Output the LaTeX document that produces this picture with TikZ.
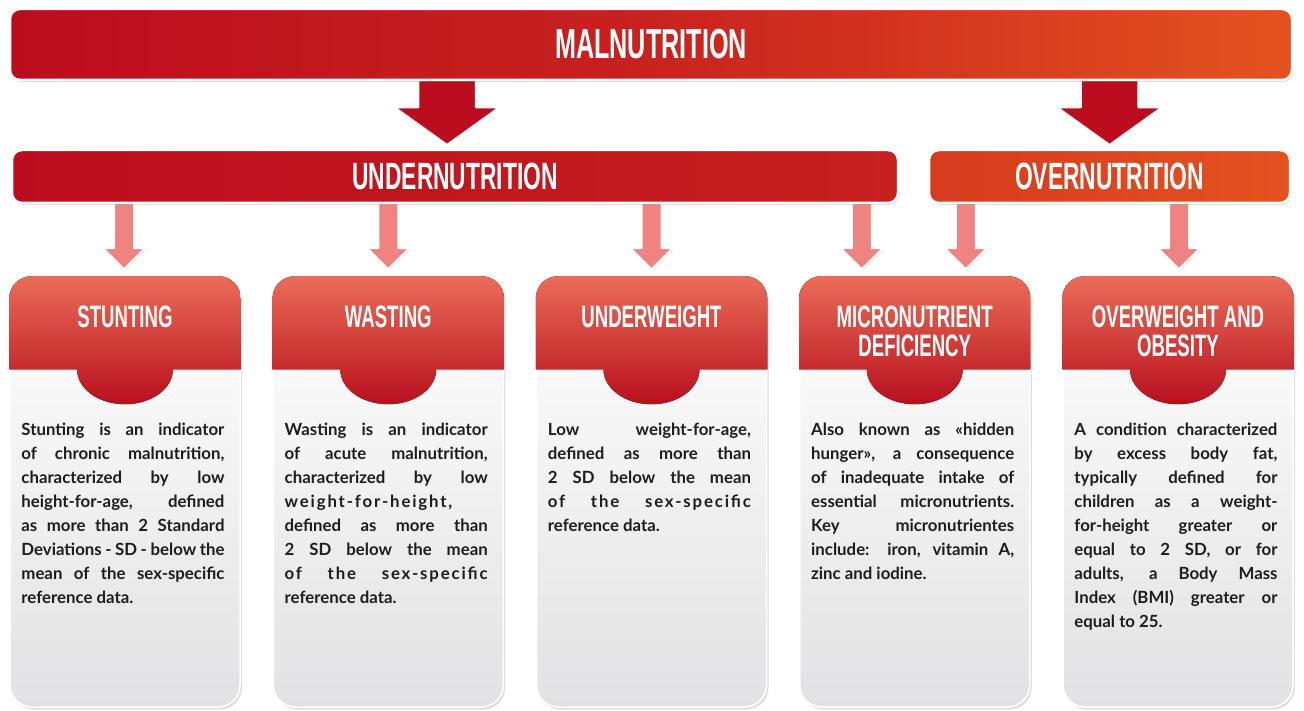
\documentclass[tikz,border=0pt]{standalone}
\usepackage{fontspec}
\setmainfont{Lato}
\newfontfamily\headfont{Liberation Sans}[FakeStretch=0.6]
\usetikzlibrary{positioning,calc,shadows,backgrounds}

\definecolor{maldark}{HTML}{BB0D1E}
\definecolor{malmid}{HTML}{C8221F}
\definecolor{malorange}{HTML}{E4521F}
\definecolor{underright}{HTML}{C6201F}
\definecolor{overleft}{HTML}{D63B1E}
\definecolor{arrowpink}{HTML}{EE837F}
\definecolor{captop}{HTML}{EA6D58}
\definecolor{capbot}{HTML}{B8101E}
\definecolor{cardbot}{HTML}{E2E2E4}
\definecolor{textdark}{HTML}{1D1D1B}

\begin{document}
\begin{tikzpicture}[x=1pt, y=-1pt,
  bar/.style={draw=white, line width=2.5pt, rounded corners=10pt, inner sep=0pt, text=white,
    drop shadow={shadow xshift=1pt, shadow yshift=-2pt, opacity=.3}},
  bigarrow/.style={fill=maldark, draw=white, line width=2.5pt, line join=round},
  smallarrow/.style={fill=arrowpink, draw=white, line width=2pt, line join=round,
    drop shadow={shadow xshift=1pt, shadow yshift=-1.5pt, opacity=.2}},
  card/.style={minimum width=230pt, minimum height=430pt, rounded corners=22pt,
    top color=white, bottom color=cardbot, draw=white, line width=1.5pt,
    drop shadow={shadow xshift=2pt, shadow yshift=-2.5pt, opacity=.25}},
  cardhead/.style={top color=captop, bottom color=capbot},
  cardtitle/.style={text=white, align=center, inner sep=0pt,
    font=\headfont\bfseries\fontsize{31}{29}\selectfont},
  cardtext/.style={anchor=north west, text width=203pt, align=justify, inner sep=0pt,
    text=textdark, font=\bfseries\fontsize{16.8}{24}\selectfont}
]
\useasboundingbox (0,0) rectangle (1304,711);

% top bars
\node[bar, minimum width=1282pt, minimum height=71pt, left color=maldark, right color=malorange,
  middle color=malmid, font=\headfont\bfseries\fontsize{42}{42}\selectfont] (mal) at (651,44.5) {MALNUTRITION};
\node[bar, minimum width=886pt, minimum height=53pt, left color=maldark, right color=underright,
  font=\headfont\bfseries\fontsize{38}{38}\selectfont] (under) at (455,176.5) {UNDERNUTRITION};
\node[bar, minimum width=361pt, minimum height=53pt, left color=overleft, right color=malorange,
  font=\headfont\bfseries\fontsize{38}{38}\selectfont] (over) at (1109.5,176.5) {OVERNUTRITION};

% cards
\foreach \n [count=\i from 0] in {stunt, wast, uwt, micro, obes} {
  \node[card] (\n) at (125+263.25*\i, 492) {};
  \begin{scope}
    \clip[rounded corners=22pt] (\n.north west) rectangle (\n.south east);
    \fill[cardhead] (\n.north west) -- (\n.north east) -- ++(0,93)
      -- ($(\n.north)+(48,93)$) arc[start angle=0, end angle=180, x radius=48, y radius=35]
      -- ($(\n.north west)+(0,93)$) -- cycle;
  \end{scope}
}

\node[cardtitle] (t1) at ($(stunt.north)+(0,41)$) {STUNTING};
\node[cardtitle] (t2) at ($(wast.north)+(0,41)$) {WASTING};
\node[cardtitle] (t3) at ($(uwt.north)+(0,41)$) {UNDERWEIGHT};
\node[cardtitle] (t4) at ($(micro.north)+(0,55)$) {MICRONUTRIENT\\DEFICIENCY};
\node[cardtitle] (t5) at ($(obes.north)+(0,55)$) {OVERWEIGHT AND\\OBESITY};

\node[cardtext] (b1) at ($(stunt.north west)+(12,147)$) {Stunting is an indicator\linebreak
  of chronic malnutrition,\linebreak characterized by low\linebreak height-for-age, defined\linebreak
  as more than 2 Standard\linebreak Deviations - SD - below the\linebreak
  mean of the sex-specific\linebreak reference data.};
\node[cardtext] (b2) at ($(wast.north west)+(12,147)$) {Wasting is an indicator\linebreak
  of acute malnutrition,\linebreak characterized by low\linebreak
  {\addfontfeature{LetterSpace=11}weight-for-height,}\linebreak defined as more than\linebreak
  2 SD below the mean\linebreak {\addfontfeature{LetterSpace=11}of the sex-specific}\linebreak
  reference data.};
\node[cardtext] (b3) at ($(uwt.north west)+(12,147)$) {Low weight-for-age,\linebreak
  defined as more than\linebreak 2 SD below the mean\linebreak
  {\addfontfeature{LetterSpace=11}of the sex-specific}\linebreak reference data.};
\node[cardtext] (b4) at ($(micro.north west)+(12,147)$) {Also known as «hidden\linebreak
  hunger», a consequence\linebreak of inadequate intake of\linebreak essential micronutrients.\linebreak
  Key micronutrientes\linebreak include: iron, vitamin A,\linebreak zinc and iodine.};
\node[cardtext] (b5) at ($(obes.north west)+(12,147)$) {A condition characterized\linebreak
  by excess body fat,\linebreak typically defined for\linebreak children as a weight-\linebreak
  for-height greater or\linebreak equal to 2 SD, or for\linebreak adults, a Body Mass\linebreak
  Index (BMI) greater or\linebreak equal to 25.};

% arrows
\begin{scope}[on background layer]
\foreach \t/\dx in {under/-8, over/0}
  \draw[bigarrow] ($(\t.north |- mal.south)+(\dx-29,-2)$) -- ++(0,28) -- ++(-24,0)
    -- ++(53,38) -- ++(53,-38) -- ++(-24,0) -- ++(0,-28) -- cycle;
\foreach \s/\t/\dx in {under/stunt/-1, under/wast/0, under/uwt/0, under/micro/-53, over/micro/51, over/obes/1}
  \draw[smallarrow] ($(\t.north |- \s.south)+(\dx-10,-2)$) -- ++(0,46) -- ++(-11,0)
    -- ++(21,21) -- ++(21,-21) -- ++(-11,0) -- ++(0,-46) -- cycle;
\end{scope}
\end{tikzpicture}
\end{document}
